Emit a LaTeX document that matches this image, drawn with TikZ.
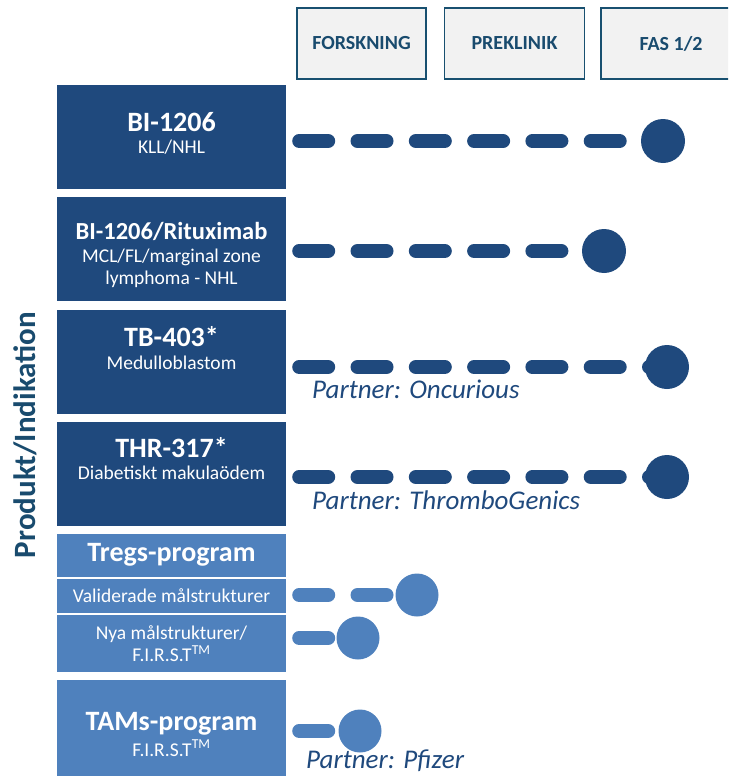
\documentclass[tikz,border=0pt]{standalone}
\usepackage{fontspec}
\setmainfont{Carlito}
\usepackage{tikz}
\usetikzlibrary{positioning}
\definecolor{darkprod}{RGB}{31,73,125}
\definecolor{lightprod}{RGB}{79,129,189}
\definecolor{phaseline}{RGB}{24,80,112}
\definecolor{phasetext}{RGB}{25,75,110}
\definecolor{phasefill}{RGB}{242,242,242}
\tikzstyle{prod} = [rectangle, minimum width=229pt, minimum height=104pt, inner sep=0pt, fill=darkprod]
\tikzstyle{prodlight} = [rectangle, minimum width=229pt, inner sep=0pt, fill=lightprod]
\tikzstyle{prodtext} = [inner sep=0pt, align=center, text=white, font=\fontsize{19.5}{22.5}\selectfont]
\tikzstyle{phase} = [rectangle, minimum height=71pt, inner sep=0pt, draw=phaseline, line width=1.5pt, fill=phasefill, text=phasetext, font=\fontsize{20}{24}\selectfont\bfseries]
\tikzstyle{dot} = [circle, minimum size=44pt, inner sep=0pt, fill=darkprod]
\tikzstyle{dotlight} = [dot, minimum size=43pt, fill=lightprod]
\tikzstyle{dashline} = [line width=14pt, line cap=round, dash pattern=on 29pt off 29.3pt, shorten <=13pt, draw=darkprod]
\tikzstyle{dashlight} = [dashline, draw=lightprod]
\tikzstyle{partner} = [inner sep=0pt, anchor=base west, text=darkprod, font=\fontsize{27}{32}\selectfont\itshape]
\newcommand{\prodname}[1]{{\fontsize{28}{32}\selectfont\bfseries #1}}

\begin{document}
\begin{tikzpicture}[x=1pt, y=1pt]
        \useasboundingbox (0,0) rectangle (728,-776);
        \clip (0,0) rectangle (728,-776);

        \node (f1) [phase, minimum width=129pt] at (361.5,-43.5) {FORSKNING};
        \node (f2) [phase, minimum width=140pt, right=17pt of f1] {PREKLINIK};
        \node (f3) [phase, minimum width=140pt, right=15pt of f2] {FAS 1/2};

        \node (axis) [rotate=90, text=phasetext, font=\fontsize{31}{36}\selectfont\bfseries] at (25,-435) {Produkt/Indikation};

        \node (b1) [prod] at (171.5,-137) {};
        \node (b2) [prod, below=8pt of b1] {};
        \node (b3) [prod, below=8pt of b2] {};
        \node (b4) [prod, below=8pt of b3] {};
        \node (tr0) [prodlight, minimum height=43pt, below=7pt of b4] {};
        \node (tr1) [prodlight, minimum height=34pt, below=2pt of tr0] {};
        \node (tr2) [prodlight, minimum height=57pt, below=2pt of tr1] {};
        \node (tams) [prodlight, minimum height=103pt, below=7pt of tr2] {};

        \node (b1t) [prodtext, below=27pt of b1.north] {\prodname{BI-1206}\\KLL/NHL};
        \node (b2t) [prodtext, below=25pt of b2.north] {{\fontsize{24.5}{28}\selectfont\bfseries BI-1206/Rituximab}\\MCL/FL/marginal zone\\lymphoma - NHL};
        \node (b3t) [prodtext, below=17pt of b3.north] {\prodname{TB-403*}\\Medulloblastom};
        \node (b4t) [prodtext, below=15pt of b4.north] {\prodname{THR-317*}\\Diabetiskt makulaödem};
        \node (tr0t) [prodtext] at (tr0) {\prodname{Tregs-program}};
        \node (tr1t) [prodtext] at (tr1) {Validerade målstrukturer};
        \node (tr2t) [prodtext] at (tr2) {Nya målstrukturer/\\F.I.R.S.T\textsuperscript{TM}};
        \node (tamst) [prodtext, below=33pt of tams.north] {\prodname{TAMs-program}\\[3pt]F.I.R.S.T\textsuperscript{TM}};

        \node (c1) [dot] at (663,-141) {};
        \node (c2) [dot] at (604,-251) {};
        \node (c3) [dot] at (667,-367) {};
        \node (c4) [dot] at (667,-477) {};
        \node (c5) [dotlight] at (417,-595) {};
        \node (c6) [dotlight] at (358,-638) {};
        \node (c7) [dotlight] at (360,-731) {};

        \node (p3) [partner] at (312,-398) {Partner: Oncurious};
        \node (p4) [partner] at (312,-509) {Partner: ThromboGenics};
        \node (p7) [partner] at (306,-768) {Partner: Pfizer};

        \draw [dashline] (c1 -| b1.east) -- (c1.center);
        \draw [dashline] (c2 -| b2.east) -- (c2.center);
        \draw [dashline] (c3 -| b3.east) -- (c3.center);
        \draw [dashline] (c4 -| b4.east) -- (c4.center);
        \draw [dashlight] (c5 -| tr1.east) -- (c5.center);
        \draw [dashlight] (c6 -| tr2.east) -- (c6.center);
        \draw [dashlight] (c7 -| tams.east) -- (c7.center);
\end{tikzpicture}
\end{document}
